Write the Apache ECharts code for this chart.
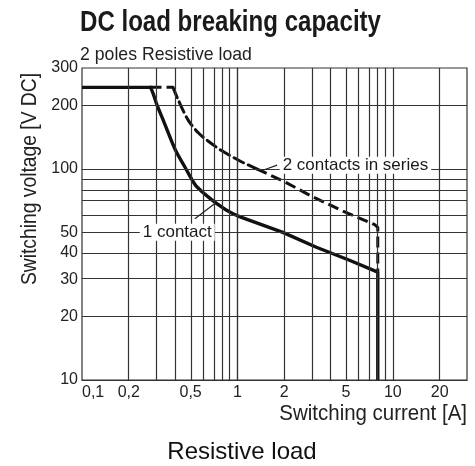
<!DOCTYPE html>
<html>
<head>
<meta charset="UTF-8">
<title>DC load breaking capacity</title>
<script src="https://cdn.jsdelivr.net/npm/echarts@6/dist/echarts.min.js"></script>
<style type="text/css">
html, body {
	margin: 0;
	padding: 0;
	background: #fff;
}

#main {
	width: 475px;
	height: 466px;
}
</style>
</head>
<body>
	<div id="main"></div>
	<script type="text/javascript">
		// current [A] / voltage [V DC]
		var oneContactI = [0.1, 0.276, 0.287, 0.304, 0.333, 0.367, 0.405, 0.459, 0.5, 0.55, 0.733, 0.937, 1.2, 1.96, 3.22, 5.26, 8, 8];
		var oneContactV = [243, 243, 227, 200, 170, 142, 120, 102, 91, 82, 68.6, 61.2, 57, 50, 42.5, 36.9, 32.4, 10];
		var seriesI = [0.276, 0.385, 0.416, 0.482, 0.56, 0.65, 0.79, 1.06, 1.33, 2.06, 2.91, 4.77, 7.6, 8, 8];
		var seriesV = [243, 243, 212, 170, 148, 135, 122, 108, 100, 86, 75, 63, 54.5, 52.8, 32.4];
		// index range of the curved part of each line (drawn smoothed)
		var oneContactKnee = [1, 12];
		var seriesKnee = [1, 8];

		// axis ticks and grid lines
		var xLabels = [0.1, 0.2, 0.5, 1, 2, 5, 10, 20];
		var yLabels = [10, 20, 30, 40, 50, 100, 200, 300];
		var xGrid = [0.2, 0.3, 0.4, 0.5, 0.6, 0.7, 0.8, 0.9, 1, 2, 3, 4, 5, 6, 7, 8, 9, 10, 20];
		var yGrid = [20, 30, 40, 50, 60, 70, 80, 90, 100, 200];
		var xRange = [0.1, 30];
		var yRange = [10, 300];

		// callouts: leader line start (on curve), end, and text anchor
		var seriesNote = { text: '2 contacts in series', from: [1.46, 98.4], to: [1.8, 104], at: [1.87, 104] };
		var oneNote = { text: '1 contact', from: [0.72, 68.6], to: [0.532, 58], at: [0.41, 50] };

		var lg = Math.log10;
		var sans = "'Liberation Sans', Arial, sans-serif";

		function toPts(xs, ys) {
			return xs.map(function(x, i) {
				return [lg(x), lg(ys[i])];
			});
		}

		/* straight head, smoothed knee, straight tail */
		function curveSeries(name, xs, ys, knee, lineStyle) {
			var pts = toPts(xs, ys);
			var parts = [ pts.slice(0, knee[0] + 1), pts.slice(knee[0], knee[1] + 1), pts.slice(knee[1]) ];
			return parts.map(function(data, k) {
				return {
					name : name,
					type : 'line',
					z : 3,
					smooth : k == 1 ? 0.3 : false,
					showSymbol : false,
					silent : true,
					data : data,
					lineStyle : echarts.util.extend({ cap : k == 1 ? 'round' : 'butt' }, lineStyle)
				};
			});
		}

		var gridLines = [];
		xGrid.forEach(function(v) {
			gridLines.push({ xAxis: lg(v) });
		});
		yGrid.forEach(function(v) {
			gridLines.push({ yAxis: lg(v) });
		});

		var myChart = echarts.init(document.getElementById('main'));

		var series = [ {
			// grid lines
			type : 'line',
			data : [],
			z : 1,
			silent : true,
			markLine : {
				silent : true,
				symbol : 'none',
				label : { show : false },
				lineStyle : { color : '#333', width : 1.2, type : 'solid' },
				data : gridLines
			}
		} ];
		series = series.concat(curveSeries('1 contact', oneContactI, oneContactV, oneContactKnee, { color : '#111', width : 3.4 }));
		series = series.concat(curveSeries('2 contacts in series', seriesI, seriesV, seriesKnee, { color : '#111', width : 3, type : [11, 5] }));
		series.push({
			// callouts
			type : 'line',
			data : [],
			z : 4,
			silent : true,
			markLine : {
				silent : true,
				symbol : 'none',
				label : { show : false },
				lineStyle : { color : '#222', width : 1.2, type : 'solid' },
				data : [ [ { coord : [lg(seriesNote.from[0]), lg(seriesNote.from[1])] }, { coord : [lg(seriesNote.to[0]), lg(seriesNote.to[1])] } ],
						[ { coord : [lg(oneNote.from[0]), lg(oneNote.from[1])] }, { coord : [lg(oneNote.to[0]), lg(oneNote.to[1])] } ] ]
			},
			markPoint : {
				silent : true,
				symbolSize : 0,
				label : {
					show : true,
					position : 'inside',
					color : '#1a1a1a',
					fontSize : 17,
					fontFamily : sans,
					backgroundColor : '#fff',
					padding : [0, 3]
				},
				data : [ {
					coord : [lg(seriesNote.at[0]), lg(seriesNote.at[1])],
					value : seriesNote.text,
					label : { formatter : seriesNote.text, align : 'left' }
				}, {
					coord : [lg(oneNote.at[0]), lg(oneNote.at[1])],
					value : oneNote.text,
					label : { formatter : oneNote.text }
				} ]
			}
		});

		var option = {
			animation : false,
			backgroundColor : '#fff',
			grid : {
				left : 82,
				right : 8,
				top : 68,
				bottom : 86,
				show : true,
				borderColor : '#333',
				borderWidth : 1.2,
				outerBoundsMode : 'none'
			},
			xAxis : {
				type : 'value',
				min : lg(xRange[0]),
				max : lg(xRange[1]),
				splitLine : { show : false },
				axisTick : { show : false },
				axisLine : { show : true, lineStyle : { color : '#333', width : 1.2 } },
				axisLabel : {
					customValues : xLabels.map(lg),
					alignMinLabel : 'left',
					margin : 5,
					color : '#222',
					fontSize : 16,
					fontFamily : sans,
					formatter : function(v) {
						var n = Math.round(Math.pow(10, v) * 10) / 10;
						return String(n).replace('.', ',');
					}
				}
			},
			yAxis : {
				type : 'value',
				min : lg(yRange[0]),
				max : lg(yRange[1]),
				splitLine : { show : false },
				axisTick : { show : false },
				axisLine : { show : true, lineStyle : { color : '#333', width : 1.2 } },
				axisLabel : {
					customValues : yLabels.map(lg),
					margin : 4,
					color : '#222',
					fontSize : 16,
					fontFamily : sans,
					formatter : function(v) {
						return Math.round(Math.pow(10, v));
					}
				}
			},
			graphic : [ {
				type : 'text',
				x : 80,
				y : 23,
				scaleX : 0.83,
				style : { text : 'DC load breaking capacity', fill : '#1a1a1a', font : 'bold 29px ' + sans, textVerticalAlign : 'middle' }
			}, {
				type : 'text',
				x : 80,
				y : 55,
				scaleX : 0.93,
				style : { text : '2 poles Resistive load', fill : '#222', font : '19px ' + sans, textVerticalAlign : 'middle' }
			}, {
				type : 'text',
				x : 30,
				y : 179,
				rotation : Math.PI / 2,
				scaleX : 0.876,
				style : { text : 'Switching voltage [V DC]', fill : '#222', font : '22px ' + sans, textAlign : 'center', textVerticalAlign : 'middle' }
			}, {
				type : 'text',
				x : 467,
				y : 414,
				scaleX : 0.93,
				style : { text : 'Switching current [A]', fill : '#222', font : '22px ' + sans, textAlign : 'right', textVerticalAlign : 'middle' }
			}, {
				type : 'text',
				x : 242,
				y : 452,
				style : { text : 'Resistive load', fill : '#111', font : '24px ' + sans, textAlign : 'center', textVerticalAlign : 'middle' }
			} ],
			series : series
		};

		myChart.setOption(option);
	</script>
</body>
</html>
